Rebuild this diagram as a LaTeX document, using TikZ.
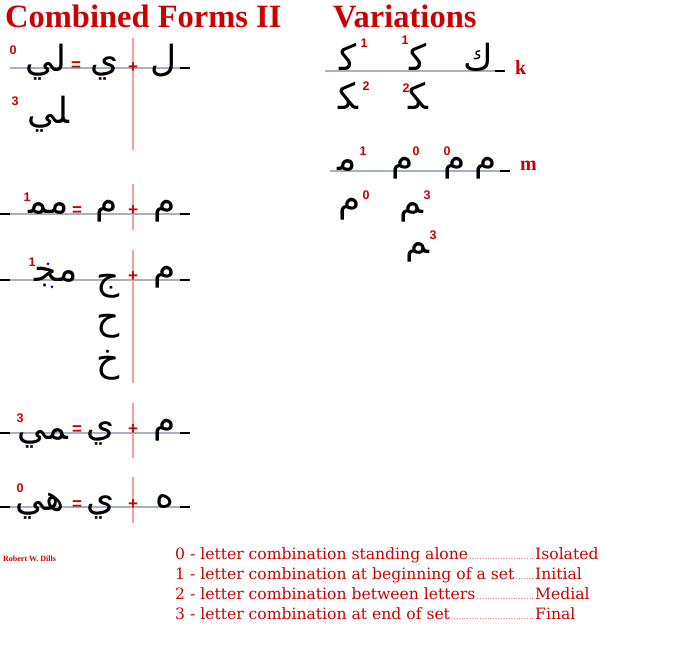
\documentclass[tikz,border=0pt]{standalone}
\usepackage{fontspec}
\setmainfont{Liberation Serif}
\newfontfamily\arabicfont[Script=Arabic]{DejaVu Sans}
\newfontfamily\numfont{Liberation Sans}
\newfontfamily\legfont{DejaVu Serif}
\TeXXeTstate=1
\newcommand\ar[1]{{\arabicfont\beginR #1\endR}}
\newcommand\zj{^^^^200d}
\definecolor{tred}{HTML}{CC0000}
\definecolor{gline}{HTML}{A3B3C3}
\definecolor{pinkline}{HTML}{F4A0A0}
\definecolor{dotblue}{HTML}{0000EE}
\tikzset{
  glineS/.style={draw=gline, line width=1.2pt},
  blineS/.style={draw=black, line width=1.2pt},
  rlineS/.style={draw=pinkline, line width=1.8pt},
  arS/.style={inner sep=0pt, anchor=base, font=\fontsize{36}{36}\selectfont},
  numS/.style={inner sep=0pt, text=tred, font=\numfont\bfseries\fontsize{12.5}{12.5}\selectfont},
  opS/.style={inner sep=0pt, text=tred, font=\numfont\bfseries\fontsize{17}{17}\selectfont},
  titleS/.style={inner sep=0pt, anchor=base west, text=tred, font=\bfseries\fontsize{32.5}{32.5}\selectfont},
  legS/.style={inner sep=0pt, anchor=base west, text=tred, font=\legfont\fontsize{15.6}{16}\selectfont},
  letS/.style={inner sep=0pt, anchor=base west, text=tred, font=\bfseries\fontsize{20}{20}\selectfont},
}
\newcommand\lead{\leaders\hbox to 2.6pt{\hss\fontsize{7}{7}\selectfont.\hss}\hfill}
\begin{document}
\begin{tikzpicture}[x=1pt,y=-1pt]
\useasboundingbox (0,0) rectangle (686,668);
% titles
\node[titleS] (t1) at (5,28) {Combined Forms II};
\node[titleS] (t2) at (333,28) {Variations};
% ---------- left rows: guide lines
\foreach \yy/\nm in {68/a,214/b,280/c,433/d,507/e}{
  \coordinate (L\nm) at (10,\yy);
  \coordinate (R\nm) at (180,\yy);
  \coordinate (E\nm) at (190,\yy);
  \path[glineS] (L\nm) -- (R\nm);
  \path[blineS] (R\nm) -- (E\nm);
}
\foreach \nm/\yy in {b/214,c/280,d/433,e/507}{
  \coordinate (S\nm) at (0,\yy);
  \path[blineS] (S\nm) -- (L\nm);
}
% red vertical lines
\foreach \nm/\ya/\yb in {a/38/150,b/184/230,c/250/383,d/403/458,e/477/523}{
  \coordinate (VT\nm) at (133,\ya);
  \coordinate (VB\nm) at (133,\yb);
  \path[rlineS] (VT\nm) -- (VB\nm);
}
% row 1
\node[numS] (n1a) at (13,50) {0};
\node[numS] (n1b) at (15,101) {3};
\node[arS] (g1a) at (46,72) {\ar{لي}};
\node[arS] (g1b) at (48,124) {\ar{\zj لي}};
\node[opS] (q1) at (76,66) {=};
\node[arS] (g1c) at (105,72) {\ar{ي}};
\node[opS] (p1) at (133,68) {+};
\node[arS] (g1d) at (164,72) {\ar{ل}};
% row 2
\node[numS] (n2) at (27,197) {1};
\node[arS] (g2a) at (49,214) {\ar{مم\zj}};
\node[opS] (q2) at (77,211) {=};
\node[arS] (g2b) at (107,214) {\ar{م}};
\node[opS] (p2) at (133,211) {+};
\node[arS] (g2c) at (165,214) {\ar{م}};
% row 3
\node[numS] (n3) at (32,262) {1};
\node[arS] (g3a) at (56,282) {\ar{مج\zj}};
\node[circle, fill=dotblue, inner sep=0pt, minimum size=3pt] (bd1) at (48,264) {};
\node[circle, fill=dotblue, inner sep=0pt, minimum size=3pt] (bd2) at (52,287) {};
\node[arS] (g3b) at (108,290) {\ar{ج}};
\node[arS] (g3c) at (108,330) {\ar{ح}};
\node[arS] (g3d) at (108,372) {\ar{خ}};
\node[opS] (p3) at (133,277) {+};
\node[arS] (g3e) at (165,280) {\ar{م}};
% row 4
\node[numS] (n4) at (20,418) {3};
\node[arS] (g4a) at (43,439) {\ar{\zj مي}};
\node[opS] (q4) at (77,430) {=};
\node[arS] (g4b) at (101,437) {\ar{ي}};
\node[opS] (p4) at (133,430) {+};
\node[arS] (g4c) at (165,433) {\ar{م}};
% row 5
\node[numS] (n5) at (20,488) {0};
\node[arS] (g5a) at (40,511) {\ar{هي}};
\node[opS] (q5) at (77,505) {=};
\node[arS] (g5b) at (101,511) {\ar{ي}};
\node[opS] (p5) at (133,505) {+};
\node[arS] (g5c) at (165,507) {\ar{ه}};
% ---------- variations k
\coordinate (kL) at (325,71);
\coordinate (kR) at (495,71);
\coordinate (kE) at (505,71);
\path[glineS] (kL) -- (kR);
\path[blineS] (kR) -- (kE);
\node[letS] (kk) at (515,75) {k};
\node[arS] (k1) at (348,71) {\ar{ك\zj}};
\node[numS] (kn1) at (364,43) {1};
\node[arS] (k2) at (418,71) {\ar{ك\zj}};
\node[numS] (kn2) at (405,40) {1};
\node[arS] (k3) at (478,71) {\ar{ك}};
\node[arS] (k4) at (348,110) {\ar{\zj ك\zj}};
\node[numS] (kn4) at (366,86) {2};
\node[arS] (k5) at (418,110) {\ar{\zj ك\zj}};
\node[numS] (kn5) at (406,88) {2};
% ---------- variations m
\coordinate (mL) at (330,171);
\coordinate (mR) at (500,171);
\coordinate (mE) at (510,171);
\path[glineS] (mL) -- (mR);
\path[blineS] (mR) -- (mE);
\node[letS] (mm) at (520,171) {m};
\node[arS] (m1) at (347,171) {\ar{م\zj}};
\node[numS] (mn1) at (363,151) {1};
\node[arS] (m2) at (403,171) {\ar{م}};
\node[numS] (mn2) at (416,151) {0};
\node[arS] (m3) at (455,171) {\ar{م}};
\node[numS] (mn3) at (447,151) {0};
\node[arS] (m4) at (486,171) {\ar{م}};
\node[arS] (m5) at (350,212) {\ar{م}};
\node[numS] (mn5) at (366,195) {0};
\node[arS] (m6) at (411,214) {\ar{\zj م}};
\node[numS] (mn6) at (427,195) {3};
\node[arS] (m7) at (417,254) {\ar{\zj م}};
\node[numS] (mn7) at (433,235) {3};
% ---------- legend
\node[inner sep=0pt, anchor=base west, text=tred, font=\bfseries\fontsize{8}{8}\selectfont] (auth) at (3,561) {Robert W. Dills};
\node[legS] (l0) at (175,559) {\makebox[360pt][l]{0 - letter combination standing alone\lead}Isolated};
\node[legS] (l1) at (175,579) {\makebox[360pt][l]{1 - letter combination at beginning of a set\lead}Initial};
\node[legS] (l2) at (175,599) {\makebox[360pt][l]{2 - letter combination between letters\lead}Medial};
\node[legS] (l3) at (175,619) {\makebox[360pt][l]{3 - letter combination at end of set\lead}Final};
\end{tikzpicture}
\end{document}
